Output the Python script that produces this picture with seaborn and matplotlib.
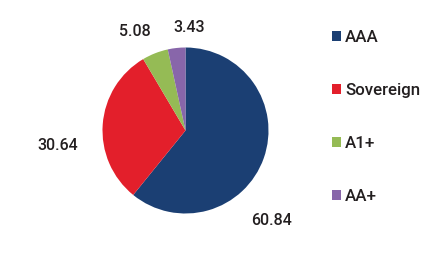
import matplotlib
matplotlib.use("Agg")
import matplotlib.pyplot as plt
import seaborn as sns
from matplotlib.patches import Patch

sns.set_theme(style="white")
plt.rcParams['font.family'] = ['Roboto', 'DejaVu Sans']

categories = ["AAA", "Sovereign", "A1+", "AA+"]
values = [60.84, 30.64, 5.08, 3.43]
value_labels = ["60.84", "30.64", "5.08", "3.43"]
colors = ["#1b3f73", "#e31f2b", "#95bb55", "#8866aa"]
label_pos = [(1.042, -1.084), (-1.536, -0.175), (-0.614, 1.19), (0.042, 1.24)]

W, H = 445, 261
fig = plt.figure(figsize=(W / 100, H / 100), dpi=100)
ax = fig.add_axes([0, 0, 1, 1])
ax.pie(values, colors=colors, startangle=90, counterclock=False,
       wedgeprops=dict(linewidth=0))
ax.set_aspect('auto')
cx, cy, r = 185.5, 130.5, 83
ax.set_xlim(-cx / r, (W - cx) / r)
ax.set_ylim(-(H - cy) / r, cy / r)
ax.axis('off')

for lab, (x, y) in zip(value_labels, label_pos):
    ax.text(x, y, lab, ha='center', va='center', fontsize=11.5,
            color='#231f20', fontweight='medium')

handles = [Patch(facecolor=c, edgecolor='none') for c in colors]
fig.legend(handles, categories, loc='upper left',
           bbox_to_anchor=(332 / W, 1 - 30 / H), frameon=False,
           borderpad=0, borderaxespad=0,
           prop=dict(size=12.2, weight='medium'),
           handlelength=0.55, handleheight=0.55, handletextpad=0.22,
           labelspacing=2.25, labelcolor='#231f20')

fig.savefig("out.png", dpi=100, facecolor='white')
